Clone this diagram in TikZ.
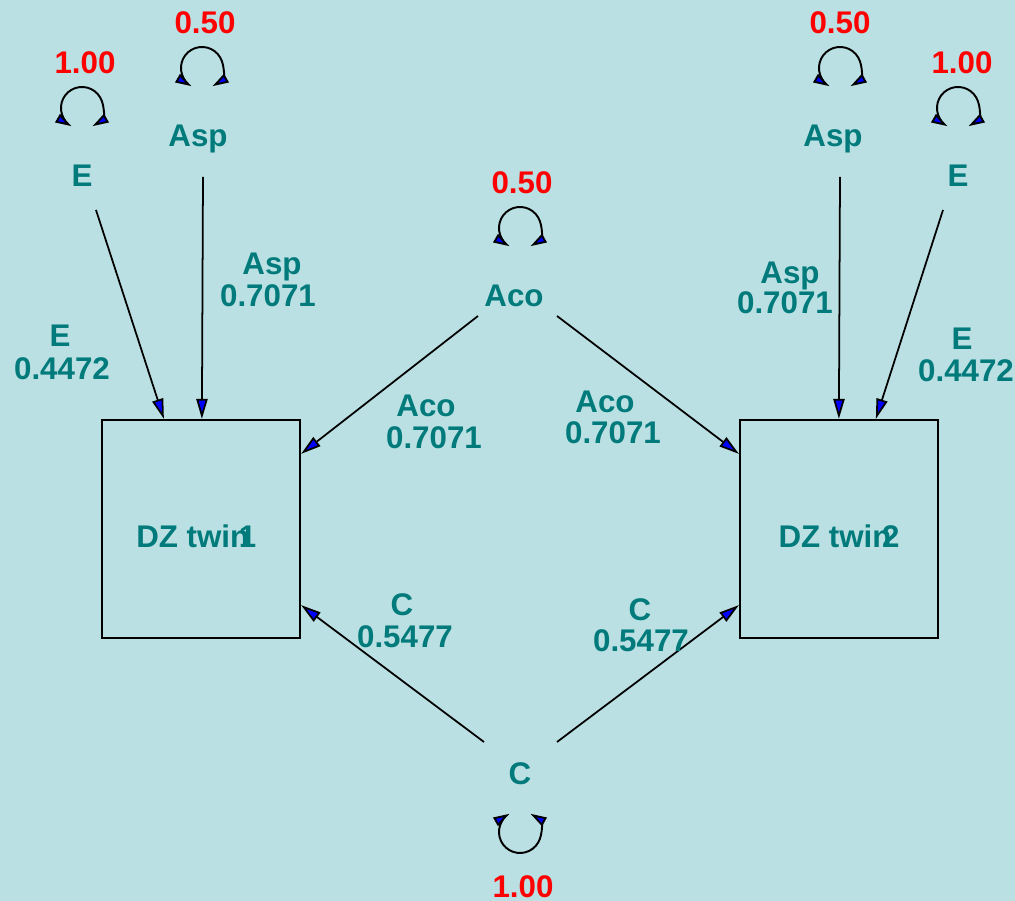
\documentclass[tikz,border=0pt]{standalone}
\usepackage{fontspec}
\setmainfont{Liberation Sans}
\usetikzlibrary{arrows.meta,calc}
\definecolor{bgc}{RGB}{186,224,227}
\definecolor{labc}{RGB}{0,122,122}
\definecolor{valc}{RGB}{255,0,0}
\begin{document}
\begin{tikzpicture}[x=0.01cm,y=-0.01cm,
  lbl/.style={text=labc, font=\fontsize{8.9}{10}\selectfont\bfseries, inner sep=0pt, text height=6.3pt, text depth=0pt},
  val/.style={lbl, text=valc},
  edge/.style={draw=black, line width=0.5pt, -{Triangle[length=5.7pt,width=3.2pt,fill=blue]}},
  loopy/.style={draw=black, line width=0.55pt, {Triangle[length=4.6pt,width=2.7pt,fill=blue]}-{Triangle[length=4.6pt,width=2.7pt,fill=blue]}},
  box/.style={draw=black, line width=0.6pt, minimum width=1.98cm, minimum height=2.18cm, inner sep=0pt,
    text=labc, font=\fontsize{8.9}{10}\selectfont\bfseries, text height=10.8pt, text depth=0pt}]
\fill[bgc] (0,0) rectangle (1015,901);
\useasboundingbox (0,0) rectangle (1015,901);

% boxes
\node[box] (b1) at (201,529) {\kern-0.3em DZ twin\kern-0.33em 1};
\node[box] (b2) at (839,529) {DZ twin\kern-0.3em 2};

% latent nodes
\node[lbl] (E1) at (82,175) {E};
\node[lbl] (A1) at (198,135) {Asp};
\node[lbl] (Aco) at (514,295) {Aco};
\node[lbl] (C) at (520,773) {C};
\node[lbl] (A2) at (833,135) {Asp};
\node[lbl] (E2) at (958,175) {E};

% variances
\node[val] (vE1) at (85,62) {1.00};
\node[val] (vA1) at (205,22) {0.50};
\node[val] (vAco) at (522,182) {0.50};
\node[val] (vC) at (523,886) {1.00};
\node[val] (vA2) at (840,22) {0.50};
\node[val] (vE2) at (962,62) {1.00};

% self loops
\draw[loopy] ($(E1)+(10.5,-48.8)$) arc[start angle=-60,end angle=240,radius=0.21cm];
\draw[loopy] ($(A1)+(14.5,-48.8)$) arc[start angle=-60,end angle=240,radius=0.21cm];
\draw[loopy] ($(Aco)+(16.5,-48.8)$) arc[start angle=-60,end angle=240,radius=0.21cm];
\draw[loopy] ($(A2)+(17.5,-48.8)$) arc[start angle=-60,end angle=240,radius=0.21cm];
\draw[loopy] ($(E2)+(10.5,-48.8)$) arc[start angle=-60,end angle=240,radius=0.21cm];
\draw[loopy] ($(C)+(10.5,40.8)$) arc[start angle=60,end angle=-240,radius=0.21cm];

% paths
\draw[edge] ($(E1)+(14,35)$) -- ($(b1.north west)+(63,0)$);
\draw[edge] ($(A1)+(5,42)$) -- ($(b1.north west)+(101,0)$);
\draw[edge] ($(Aco)+(-36,21)$) -- ($(b1.north east)+(0,35)$);
\draw[edge] ($(Aco)+(43,21)$) -- ($(b2.north west)+(0,35)$);
\draw[edge] ($(C)+(-36,-31)$) -- ($(b1.south east)+(0,-34)$);
\draw[edge] ($(C)+(37,-31)$) -- ($(b2.south west)+(0,-34)$);
\draw[edge] ($(A2)+(7,42)$) -- ($(b2.north west)+(100,0)$);
\draw[edge] ($(E2)+(-15,35)$) -- ($(b2.north west)+(137,0)$);

% path labels
\node[lbl] (lE1a) at (60,335) {E};
\node[lbl] (lE1b) at (62,368) {0.4472};
\node[lbl] (lA1a) at (272,263) {Asp};
\node[lbl] (lA1b) at (268,295) {0.7071};
\node[lbl] (lAc1a) at (426,405) {Aco};
\node[lbl] (lAc1b) at (434,437) {0.7071};
\node[lbl] (lAc2a) at (605,401) {Aco};
\node[lbl] (lAc2b) at (613,432) {0.7071};
\node[lbl] (lA2a) at (790,272) {Asp};
\node[lbl] (lA2b) at (785,302) {0.7071};
\node[lbl] (lE2a) at (962,338) {E};
\node[lbl] (lE2b) at (966,370) {0.4472};
\node[lbl] (lC1a) at (402,604) {C};
\node[lbl] (lC1b) at (405,636) {0.5477};
\node[lbl] (lC2a) at (640,609) {C};
\node[lbl] (lC2b) at (641,640) {0.5477};
\end{tikzpicture}
\end{document}
